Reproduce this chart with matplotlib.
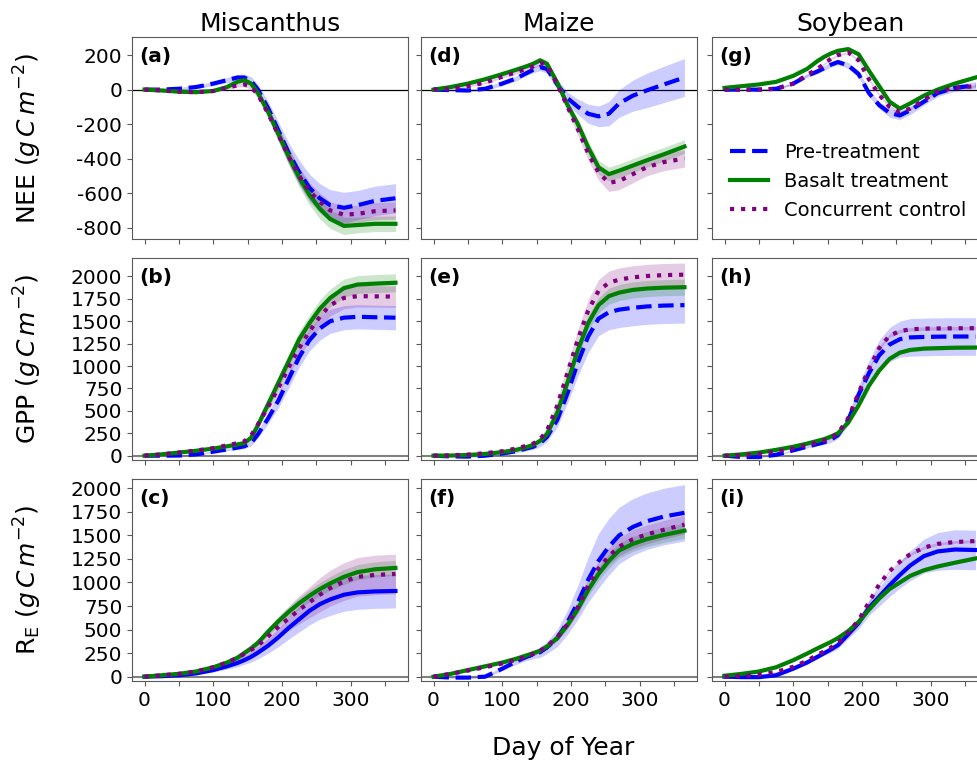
import numpy as np
import matplotlib
matplotlib.use("Agg")
import matplotlib.pyplot as plt

days = [0, 25, 50, 75, 100, 120, 135, 145, 155, 165, 180, 195, 210, 225, 240, 255, 270, 290, 310, 335, 365]

crops = ["Miscanthus", "Maize", "Soybean"]
labels = ["Pre-treatment", "Basalt treatment", "Concurrent control"]

# ---- NEE (g C m-2) ----
nee_misc_pre = [0, 0, 5, 15, 35, 55, 70, 70, 50, 0, -110, -240, -370, -480, -570, -630, -670, -685, -670, -645, -630]
nee_misc_bas = [0, -5, -12, -15, -8, 15, 45, 55, 35, -20, -130, -260, -390, -510, -610, -690, -750, -790, -785, -778, -778]
nee_misc_ctl = [0, -5, -12, -15, -8, 10, 25, 30, 15, -30, -140, -265, -390, -500, -590, -650, -700, -725, -720, -705, -700]
nee_misc_pre_sd = [0, 5, 8, 10, 12, 15, 18, 20, 25, 30, 40, 50, 60, 70, 80, 85, 90, 90, 85, 85, 85]
nee_misc_bas_sd = [0, 3, 5, 5, 6, 8, 10, 12, 15, 20, 30, 40, 50, 55, 60, 60, 55, 50, 45, 45, 45]
nee_misc_ctl_sd = [0, 3, 5, 5, 6, 8, 10, 12, 15, 20, 30, 40, 45, 50, 50, 50, 50, 50, 50, 50, 50]

nee_maize_pre = [0, -3, -5, 5, 35, 65, 95, 115, 130, 120, 30, -50, -100, -140, -155, -140, -80, -35, -5, 30, 70]
nee_maize_bas = [0, 15, 35, 60, 90, 115, 135, 150, 170, 150, 40, -90, -200, -335, -450, -490, -470, -440, -410, -375, -330]
nee_maize_ctl = [0, 5, 20, 40, 75, 100, 120, 135, 155, 140, 30, -100, -230, -370, -480, -540, -530, -490, -450, -420, -400]
nee_maize_pre_sd = [0, 5, 8, 10, 12, 15, 15, 18, 20, 25, 30, 35, 45, 55, 60, 70, 80, 90, 100, 105, 110]
nee_maize_bas_sd = [0, 3, 5, 6, 8, 10, 10, 12, 12, 15, 20, 25, 30, 35, 40, 40, 40, 40, 40, 40, 40]
nee_maize_ctl_sd = [0, 3, 5, 6, 8, 10, 10, 12, 12, 15, 20, 25, 35, 40, 45, 50, 50, 50, 50, 50, 50]

nee_soy_pre = [0, 0, 0, 5, 35, 80, 105, 125, 145, 160, 140, 90, -20, -90, -135, -150, -120, -70, -20, 10, 25]
nee_soy_bas = [10, 20, 30, 45, 80, 120, 165, 190, 210, 225, 235, 205, 110, 20, -70, -110, -80, -35, 0, 35, 70]
nee_soy_ctl = [0, 0, 0, 5, 35, 85, 120, 150, 180, 200, 215, 170, 60, -30, -100, -130, -110, -60, -10, 10, 20]
nee_soy_pre_sd = [0, 3, 5, 5, 8, 10, 12, 15, 15, 15, 18, 20, 20, 20, 25, 25, 25, 20, 20, 20, 20]
nee_soy_bas_sd = [0, 2, 3, 3, 5, 5, 5, 6, 6, 6, 6, 8, 8, 8, 8, 8, 8, 8, 8, 8, 8]
nee_soy_ctl_sd = [0, 2, 3, 3, 5, 5, 5, 6, 6, 6, 6, 8, 8, 8, 8, 8, 8, 8, 8, 8, 8]

# ---- GPP (g C m-2) ----
gpp_misc_pre = [0, 0, 2, 15, 45, 70, 90, 105, 140, 240, 420, 620, 860, 1100, 1290, 1420, 1500, 1540, 1550, 1545, 1540]
gpp_misc_bas = [0, 15, 35, 55, 80, 105, 125, 140, 200, 340, 580, 820, 1060, 1300, 1480, 1640, 1760, 1870, 1910, 1920, 1930]
gpp_misc_ctl = [0, 15, 35, 58, 85, 115, 140, 160, 225, 350, 550, 760, 990, 1200, 1390, 1550, 1680, 1760, 1780, 1778, 1775]
gpp_misc_pre_sd = [0, 3, 5, 8, 10, 15, 20, 25, 30, 40, 60, 80, 100, 110, 120, 130, 135, 135, 135, 135, 135]
gpp_misc_bas_sd = [0, 3, 5, 5, 8, 10, 12, 15, 20, 30, 50, 70, 80, 90, 95, 100, 100, 100, 100, 100, 100]
gpp_misc_ctl_sd = [0, 3, 5, 5, 8, 10, 12, 15, 20, 30, 50, 70, 90, 100, 110, 120, 120, 120, 120, 120, 120]

gpp_maize_pre = [0, -8, -10, 0, 25, 50, 80, 100, 140, 210, 400, 700, 1040, 1330, 1530, 1600, 1630, 1650, 1665, 1675, 1680]
gpp_maize_bas = [0, 2, 8, 20, 40, 65, 95, 120, 165, 240, 480, 820, 1180, 1480, 1680, 1780, 1820, 1850, 1865, 1875, 1880]
gpp_maize_ctl = [0, 5, 12, 28, 50, 80, 110, 135, 185, 280, 560, 930, 1300, 1620, 1840, 1930, 1965, 1990, 2005, 2015, 2020]
gpp_maize_pre_sd = [0, 5, 8, 10, 15, 20, 25, 30, 40, 50, 80, 110, 150, 180, 190, 195, 200, 200, 200, 200, 200]
gpp_maize_bas_sd = [0, 3, 5, 5, 8, 10, 10, 12, 15, 20, 35, 50, 70, 80, 85, 90, 90, 90, 90, 90, 90]
gpp_maize_ctl_sd = [0, 3, 5, 8, 10, 12, 15, 20, 25, 35, 60, 90, 110, 120, 125, 130, 130, 130, 130, 130, 130]

gpp_soy_pre = [0, -15, -15, 10, 60, 100, 130, 150, 180, 230, 400, 680, 920, 1120, 1240, 1300, 1320, 1325, 1328, 1330, 1330]
gpp_soy_bas = [0, 15, 35, 65, 100, 135, 165, 185, 215, 250, 370, 560, 780, 950, 1080, 1150, 1180, 1195, 1200, 1205, 1207]
gpp_soy_ctl = [0, 5, 20, 45, 80, 120, 150, 170, 200, 250, 420, 700, 970, 1200, 1340, 1390, 1410, 1418, 1420, 1422, 1423]
gpp_soy_pre_sd = [0, 3, 5, 8, 10, 15, 20, 25, 30, 40, 60, 100, 140, 170, 190, 200, 210, 210, 210, 210, 210]
gpp_soy_bas_sd = [0, 2, 3, 4, 5, 6, 8, 8, 10, 10, 12, 15, 18, 20, 20, 20, 20, 20, 20, 20, 20]
gpp_soy_ctl_sd = [0, 2, 3, 4, 5, 6, 8, 8, 10, 10, 12, 15, 18, 20, 20, 20, 20, 20, 20, 20, 20]

# ---- RE (g C m-2) ----
re_misc_pre = [0, 5, 15, 35, 70, 110, 145, 175, 210, 255, 330, 420, 520, 610, 700, 770, 820, 870, 895, 905, 910]
re_misc_bas = [0, 15, 30, 55, 100, 150, 200, 250, 300, 360, 480, 590, 690, 780, 860, 930, 990, 1060, 1110, 1140, 1155]
re_misc_ctl = [0, 15, 30, 55, 100, 150, 200, 240, 285, 330, 430, 530, 620, 710, 790, 870, 940, 1010, 1060, 1080, 1090]
re_misc_pre_sd = [0, 5, 10, 15, 20, 30, 40, 45, 55, 65, 80, 100, 120, 135, 150, 160, 170, 175, 180, 180, 180]
re_misc_bas_sd = [0, 3, 5, 8, 10, 15, 20, 25, 30, 35, 40, 50, 55, 60, 65, 70, 75, 80, 80, 80, 80]
re_misc_ctl_sd = [0, 5, 10, 15, 20, 30, 40, 50, 60, 70, 90, 110, 130, 150, 165, 180, 190, 200, 205, 210, 210]

re_maize_pre = [0, -10, -10, 0, 85, 160, 210, 235, 260, 310, 410, 580, 790, 1030, 1230, 1380, 1500, 1590, 1650, 1700, 1740]
re_maize_bas = [0, 30, 70, 110, 150, 190, 225, 250, 275, 320, 410, 550, 720, 920, 1090, 1230, 1340, 1410, 1460, 1505, 1550]
re_maize_ctl = [0, 30, 65, 100, 140, 180, 215, 240, 275, 325, 420, 560, 740, 970, 1150, 1280, 1380, 1460, 1510, 1560, 1615]
re_maize_pre_sd = [0, 5, 10, 15, 20, 30, 40, 45, 55, 65, 90, 130, 180, 240, 290, 300, 300, 300, 300, 300, 300]
re_maize_bas_sd = [0, 3, 5, 8, 10, 12, 15, 18, 20, 25, 30, 40, 50, 60, 70, 80, 80, 80, 80, 80, 80]
re_maize_ctl_sd = [0, 3, 5, 8, 10, 12, 15, 18, 20, 25, 35, 45, 60, 70, 80, 90, 95, 100, 100, 100, 100]

re_soy_pre = [0, -5, -5, 15, 85, 150, 210, 250, 290, 335, 450, 570, 730, 850, 970, 1080, 1180, 1280, 1330, 1350, 1345]
re_soy_bas = [10, 30, 55, 100, 175, 245, 300, 335, 370, 410, 485, 580, 710, 830, 930, 1000, 1070, 1130, 1170, 1210, 1255]
re_soy_ctl = [0, 10, 20, 50, 105, 170, 230, 270, 310, 360, 470, 600, 790, 980, 1120, 1220, 1300, 1370, 1410, 1430, 1440]
re_soy_pre_sd = [0, 3, 5, 8, 10, 15, 20, 25, 30, 35, 45, 60, 80, 100, 120, 140, 160, 180, 200, 210, 210]
re_soy_bas_sd = [0, 2, 3, 5, 5, 8, 8, 10, 10, 10, 12, 15, 15, 15, 15, 15, 15, 15, 15, 15, 15]
re_soy_ctl_sd = [0, 2, 3, 5, 5, 8, 8, 10, 10, 10, 12, 15, 15, 15, 15, 15, 15, 15, 15, 15, 15]

panels = [
    [(nee_misc_pre, nee_misc_pre_sd, nee_misc_bas, nee_misc_bas_sd, nee_misc_ctl, nee_misc_ctl_sd),
     (nee_maize_pre, nee_maize_pre_sd, nee_maize_bas, nee_maize_bas_sd, nee_maize_ctl, nee_maize_ctl_sd),
     (nee_soy_pre, nee_soy_pre_sd, nee_soy_bas, nee_soy_bas_sd, nee_soy_ctl, nee_soy_ctl_sd)],
    [(gpp_misc_pre, gpp_misc_pre_sd, gpp_misc_bas, gpp_misc_bas_sd, gpp_misc_ctl, gpp_misc_ctl_sd),
     (gpp_maize_pre, gpp_maize_pre_sd, gpp_maize_bas, gpp_maize_bas_sd, gpp_maize_ctl, gpp_maize_ctl_sd),
     (gpp_soy_pre, gpp_soy_pre_sd, gpp_soy_bas, gpp_soy_bas_sd, gpp_soy_ctl, gpp_soy_ctl_sd)],
    [(re_misc_pre, re_misc_pre_sd, re_misc_bas, re_misc_bas_sd, re_misc_ctl, re_misc_ctl_sd),
     (re_maize_pre, re_maize_pre_sd, re_maize_bas, re_maize_bas_sd, re_maize_ctl, re_maize_ctl_sd),
     (re_soy_pre, re_soy_pre_sd, re_soy_bas, re_soy_bas_sd, re_soy_ctl, re_soy_ctl_sd)],
]

row_labels = [r"NEE $(g\,C\,m^{-2})$", r"GPP $(g\,C\,m^{-2})$", r"R$_\mathrm{E}$ $(g\,C\,m^{-2})$"]
row_ylims = [(-866, 305), (-48, 2206), (-46, 2099)]
row_yticks = [np.arange(-800, 201, 200), np.arange(0, 2001, 250), np.arange(0, 2001, 250)]
letters = ["abc", "def", "ghi"]

plt.rcParams["axes.unicode_minus"] = False
plt.rcParams["axes.edgecolor"] = "0.35"
plt.rcParams["xtick.color"] = "0.35"
plt.rcParams["ytick.color"] = "0.35"
plt.rcParams["xtick.labelcolor"] = "black"
plt.rcParams["ytick.labelcolor"] = "black"

W, H = 978, 764
fig = plt.figure(figsize=(W / 100, H / 100), dpi=100)

col_left = [132, 421, 712]
row_top = [37, 258, 479]
ax_w, ax_h = 276, 202

x = np.array(days)
for r in range(3):
    for c in range(3):
        ax = fig.add_axes([col_left[c] / W, 1 - (row_top[r] + ax_h) / H, ax_w / W, ax_h / H])
        pre, pre_sd, bas, bas_sd, ctl, ctl_sd = [np.array(a) for a in panels[r][c]]

        if r == 0:
            ax.axhline(0, color="black", lw=0.9, zorder=1)
        else:
            ax.axhline(0, color="gray", lw=1.5, zorder=1)

        # pre-treatment is drawn solid in the RE panels of Miscanthus and Soybean
        pre_ls = "-" if (r == 2 and c != 1) else "--"
        ax.fill_between(x, pre - pre_sd, pre + pre_sd, color="blue", alpha=0.2, lw=0)
        ax.plot(x, pre, color="blue", ls=pre_ls, lw=3, label=labels[0])
        ax.fill_between(x, bas - bas_sd, bas + bas_sd, color="green", alpha=0.2, lw=0)
        ax.plot(x, bas, color="green", ls="-", lw=3, label=labels[1])
        ax.fill_between(x, ctl - ctl_sd, ctl + ctl_sd, color="purple", alpha=0.2, lw=0)
        ax.plot(x, ctl, color="purple", ls=":", lw=3, label=labels[2])

        ax.set_xlim(-18.25, 383.25)
        ax.set_ylim(*row_ylims[r])
        ax.set_xticks(np.arange(0, 351, 50))
        ax.set_yticks(row_yticks[r])
        ax.tick_params(labelsize=14.5)
        if r == 2:
            ax.set_xticklabels([str(v) if v % 100 == 0 else "" for v in range(0, 351, 50)])
        else:
            ax.set_xticklabels([])
        if c != 0:
            ax.set_yticklabels([])

        ax.text(0.025, 0.95, "(" + letters[c][r] + ")", transform=ax.transAxes,
                fontsize=14.5, fontweight="bold", va="top", ha="left")

        if r == 0:
            ax.set_title(crops[c], fontsize=18, pad=4)
        if r == 0 and c == 2:
            ax.legend(loc="center left", bbox_to_anchor=(0.0, 0.285), frameon=False,
                      fontsize=14, handlelength=2.0, labelspacing=0.5)

for r in range(3):
    yc = row_top[r] + ax_h / 2
    fig.text(28 / W, 1 - yc / H, row_labels[r], rotation=90, fontsize=18,
             ha="center", va="center")

fig.text(563 / W, 1 - 748 / H, "Day of Year", fontsize=18, ha="center", va="center")

fig.savefig("out.png", dpi=100)
